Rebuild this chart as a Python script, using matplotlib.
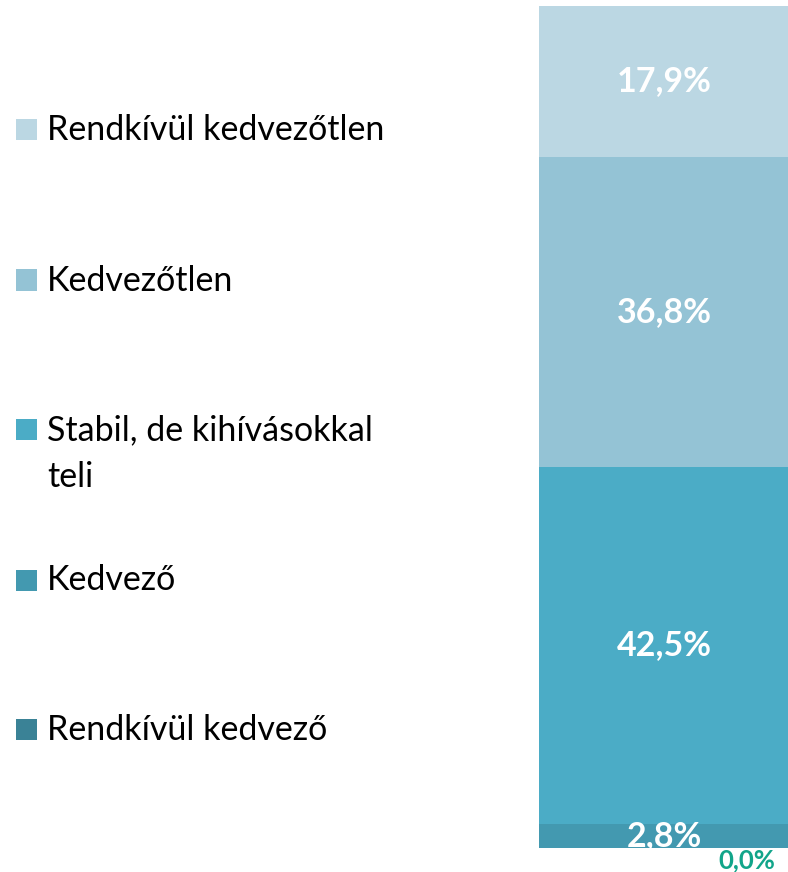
import numpy as np
import matplotlib.pyplot as plt
from matplotlib.patches import Rectangle

plt.rcParams['font.family'] = ['Lato', 'DejaVu Sans']

# categories from bottom to top of the stacked bar
categories = ['Rendkívül kedvező', 'Kedvező', 'Stabil, de kihívásokkal\nteli',
              'Kedvezőtlen', 'Rendkívül kedvezőtlen']
values = [0.0, 2.8, 42.5, 36.8, 17.9]
colors = ['#3A8296', '#4399B0', '#4BACC6', '#94C3D5', '#BBD7E3']
label_colors = ['#12A58A', 'white', 'white', 'white', 'white']

W, H = 788, 872
fig = plt.figure(figsize=(W / 100, H / 100), dpi=100)

# the bar
ax = fig.add_axes([539 / W, 24 / H, 250 / W, 842 / H])
bottoms = np.concatenate([[0], np.cumsum(values)[:-1]])
for v, b, c, lc in zip(values, bottoms, colors, label_colors):
    ax.bar(0, v, bottom=b, width=1.0, color=c, linewidth=0)
    txt = f'{v:.1f}%'.replace('.', ',')
    if v == 0:
        # empty segment gets its label under the bar
        ax.annotate(txt, (0.33, b), xytext=(0, 0), textcoords='offset points',
                    ha='center', va='top', color=lc, fontsize=18.5, fontweight='bold')
    else:
        ax.text(0, b + v / 2, txt, ha='center', va='center', color=lc,
                fontsize=24.5, fontweight='bold')
ax.set_xlim(-0.5, 0.5)
ax.set_ylim(0, sum(values))
ax.axis('off')

# legend, top item is the top segment
leg_y = [729, 580, 430, 280, 130]
for cat, c, y in zip(categories, colors, leg_y):
    fig.patches.append(Rectangle((16 / W, 1 - (y + 10.5) / H), 21 / W, 21 / H,
                                 transform=fig.transFigure, color=c, linewidth=0))
    for i, line in enumerate(cat.split('\n')):
        fig.text(47 / W, 1 - (y + 10.5 + 46 * i) / H, line, ha='left',
                 va='baseline', fontsize=24.5, color='black')

fig.savefig('out.png', dpi=100)
